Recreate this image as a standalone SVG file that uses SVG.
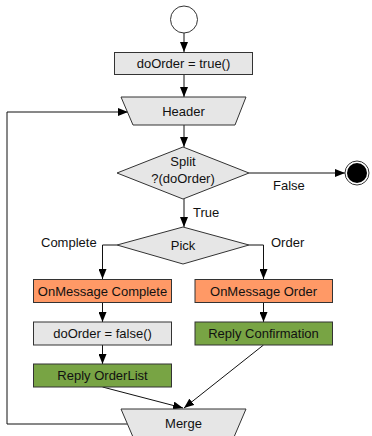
<svg xmlns="http://www.w3.org/2000/svg" width="372" height="436" viewBox="0 0 372 436">
  <defs>
    <marker id="arrow" viewBox="0 0 10 8" refX="10" refY="4" markerWidth="10" markerHeight="8" markerUnits="userSpaceOnUse" orient="auto">
      <path d="M0,0 L10,4 L0,8 Z" fill="#000"/>
    </marker>
    <style>
      text { font-family: "Liberation Sans", Arial, sans-serif; font-size: 13px; fill: #111; }
      .c { text-anchor: middle; }
      .gray { fill: #e6e6e6; stroke: #333; stroke-width: 1; }
      .orange { fill: #ff9966; stroke: #333; stroke-width: 1; }
      .green { fill: #78a444; stroke: #333; stroke-width: 1; }
      .edge { fill: none; stroke: #111; stroke-width: 1; marker-end: url(#arrow); }
      .line { fill: none; stroke: #111; stroke-width: 1; }
    </style>
  </defs>
  <rect width="372" height="436" fill="#fff"/>

  <g id="connectors">
    <path class="edge" d="M184,33 V52"/>
    <path class="edge" d="M184,74 V97"/>
    <path class="edge" d="M184,125 V147"/>
    <path class="edge" d="M249,173 H345"/>
    <path class="edge" d="M184,199 V227"/>
    <path class="edge" d="M117,245 H102.5 V279"/>
    <path class="edge" d="M249,245 H263.5 V279"/>
    <path class="edge" d="M102.5,302 V322"/>
    <path class="edge" d="M102.5,345 V364"/>
    <path class="edge" d="M263.5,302 V322"/>
    <path class="edge" d="M102.5,387 L183,408"/>
    <path class="edge" d="M263.5,345 L184,408"/>
    <path class="edge" d="M127,424 H7 V112 H128"/>
    <text x="273" y="190">False</text>
    <text x="193" y="217">True</text>
    <text x="41" y="247">Complete</text>
    <text x="271" y="247">Order</text>
  </g>

  <g id="start">
    <circle cx="184" cy="19.5" r="13.5" fill="#fff" stroke="#333"/>
  </g>

  <g id="init">
    <rect class="gray" x="114.5" y="52.5" width="138" height="22"/>
    <text class="c" x="183.5" y="68">doOrder = true()</text>
  </g>

  <g id="header">
    <polygon class="gray" points="121,97 246,97 235,125 133,125"/>
    <text class="c" x="183.5" y="116">Header</text>
  </g>

  <g id="split">
    <polygon class="gray" points="183,147 249,173 183,199 117,173"/>
    <text class="c" x="183" y="166">Split</text>
    <text class="c" x="183" y="183">?(doOrder)</text>
  </g>

  <g id="end">
    <circle cx="357" cy="173" r="12" fill="#fff" stroke="#333"/>
    <circle cx="357" cy="173" r="10" fill="#000"/>
  </g>

  <g id="pick">
    <polygon class="gray" points="183,227 249,245 183,264 117,245"/>
    <text class="c" x="183" y="250">Pick</text>
  </g>

  <g id="onmessage-complete">
    <rect class="orange" x="33.5" y="279.5" width="138" height="23"/>
    <text class="c" x="102.5" y="295.5">OnMessage Complete</text>
  </g>

  <g id="onmessage-order">
    <rect class="orange" x="195" y="279.5" width="137.5" height="23"/>
    <text class="c" x="263.5" y="295.5">OnMessage Order</text>
  </g>

  <g id="reset">
    <rect class="gray" x="33.5" y="322" width="138" height="23"/>
    <text class="c" x="102.5" y="338">doOrder = false()</text>
  </g>

  <g id="reply-confirmation">
    <rect class="green" x="195" y="322" width="137.5" height="23"/>
    <text class="c" x="263.5" y="338">Reply Confirmation</text>
  </g>

  <g id="reply-orderlist">
    <rect class="green" x="33.5" y="364" width="138" height="23"/>
    <text class="c" x="102.5" y="380">Reply OrderList</text>
  </g>

  <g id="merge">
    <polygon class="gray" points="121,409 246,409 234,437 133,437"/>
    <text class="c" x="183.5" y="428">Merge</text>
  </g>
</svg>
